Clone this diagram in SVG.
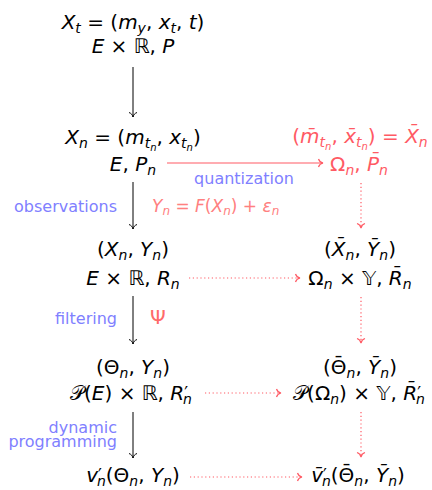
<svg xmlns="http://www.w3.org/2000/svg" width="432" height="490" viewBox="0 0 432 490">
<style>
.t{font-family:"DejaVu Sans",sans-serif;font-size:20px;font-style:italic;text-anchor:middle;fill:#000}
.u{font-style:normal}
.s{font-size:14px}
.ss{font-size:10px}
.pr{font-size:17px;font-style:normal}
.red{fill:#ff5a64}
.lred{fill:#ff8080}
.lab{font-family:"DejaVu Sans",sans-serif;font-size:16px;fill:#8080ff}
.blk{stroke:#000;stroke-width:1;fill:none}
.rs{stroke:#ff5a64;stroke-width:1.2;fill:none}
.rd{stroke:#ff5a64;stroke-width:1.2;fill:none;stroke-dasharray:1.2 2.6}
</style>
<defs>
<marker id="ab" viewBox="-6 -6 12 12" markerWidth="12" markerHeight="12" refX="0" refY="0" orient="auto" markerUnits="userSpaceOnUse"><path d="M-4.5,-4 C-3.8,-1.8 -1.8,-0.4 0,0 C-1.8,0.4 -3.8,1.8 -4.5,4" fill="none" stroke="#000" stroke-width="1"/></marker>
<marker id="ar" viewBox="-6 -6 12 12" markerWidth="12" markerHeight="12" refX="0" refY="0" orient="auto" markerUnits="userSpaceOnUse"><path d="M-4.5,-4 C-3.8,-1.8 -1.8,-0.4 0,0 C-1.8,0.4 -3.8,1.8 -4.5,4" fill="none" stroke="#ff5a64" stroke-width="1.2"/></marker>
</defs>

<g id="node-Xt">
<text class="t" x="133" y="29">X<tspan class="s" dy="4">t</tspan><tspan class="u" dy="-4"> = (</tspan>m<tspan class="s" dy="4">y</tspan><tspan class="u" dy="-4">, </tspan>x<tspan class="s" dy="4">t</tspan><tspan class="u" dy="-4">, </tspan>t<tspan class="u">)</tspan></text>
<text class="t" x="133" y="53">E<tspan class="u"> × ℝ, </tspan>P</text>
</g>

<g id="node-Xn">
<text class="t" x="133" y="144">X<tspan class="s" dy="4">n</tspan><tspan class="u" dy="-4"> = (</tspan>m<tspan class="s" dy="4">t</tspan><tspan class="ss" dy="3">n</tspan><tspan class="u" dy="-7">, </tspan>x<tspan class="s" dy="4">t</tspan><tspan class="ss" dy="3">n</tspan><tspan class="u" dy="-7">)</tspan></text>
<text class="t" x="133" y="171">E<tspan class="u">, </tspan>P<tspan class="s" dy="4">n</tspan></text>
</g>

<g id="node-Xbar">
<text class="t red" x="360" y="143"><tspan class="u">(</tspan>m̄<tspan class="s" dy="4">t</tspan><tspan class="ss" dy="3">n</tspan><tspan class="u" dy="-7">, </tspan>x̄<tspan class="s" dy="4">t</tspan><tspan class="ss" dy="3">n</tspan><tspan class="u" dy="-7">) = </tspan>X̄<tspan class="s" dy="4">n</tspan></text>
<text class="t red" x="359" y="171"><tspan class="u">Ω</tspan><tspan class="s" dy="4">n</tspan><tspan class="u" dy="-4">, </tspan>P̄<tspan class="s" dy="4">n</tspan></text>
</g>

<g id="node-XY">
<text class="t" x="133" y="256"><tspan class="u">(</tspan>X<tspan class="s" dy="4">n</tspan><tspan class="u" dy="-4">, </tspan>Y<tspan class="s" dy="4">n</tspan><tspan class="u" dy="-4">)</tspan></text>
<text class="t" x="133" y="285">E<tspan class="u"> × ℝ, </tspan>R<tspan class="s" dy="4">n</tspan></text>
</g>

<g id="node-XYbar">
<text class="t" x="360" y="256"><tspan class="u">(</tspan>X̄<tspan class="s" dy="4">n</tspan><tspan class="u" dy="-4">, </tspan>Ȳ<tspan class="s" dy="4">n</tspan><tspan class="u" dy="-4">)</tspan></text>
<text class="t" x="360" y="285"><tspan class="u">Ω</tspan><tspan class="s" dy="4">n</tspan><tspan class="u" dy="-4"> × 𝕐, </tspan>R̄<tspan class="s" dy="4">n</tspan></text>
</g>

<g id="node-ThetaY">
<text class="t" x="133" y="374"><tspan class="u">(Θ</tspan><tspan class="s" dy="4">n</tspan><tspan class="u" dy="-4">, </tspan>Y<tspan class="s" dy="4">n</tspan><tspan class="u" dy="-4">)</tspan></text>
<text class="t" x="131" y="400"><tspan class="u">𝒫(</tspan>E<tspan class="u">) × ℝ, </tspan>R<tspan class="pr" dy="-1">′</tspan><tspan class="s" dx="-5" dy="5">n</tspan></text>
</g>

<g id="node-ThetaYbar">
<text class="t" x="360" y="374"><tspan class="u">(Θ</tspan><tspan class="u" dx="-12.9" dy="-3">¯</tspan><tspan class="s" dx="2.9" dy="7">n</tspan><tspan class="u" dy="-4">, </tspan>Ȳ<tspan class="s" dy="4">n</tspan><tspan class="u" dy="-4">)</tspan></text>
<text class="t" x="359" y="400"><tspan class="u">𝒫(Ω</tspan><tspan class="s" dy="4">n</tspan><tspan class="u" dy="-4">) × 𝕐, </tspan>R̄<tspan class="pr" dy="-1">′</tspan><tspan class="s" dx="-5" dy="5">n</tspan></text>
</g>

<g id="node-v">
<text class="t" x="133" y="482">v<tspan class="pr" dy="-1">′</tspan><tspan class="s" dx="-5" dy="5">n</tspan><tspan class="u" dy="-4">(Θ</tspan><tspan class="s" dy="4">n</tspan><tspan class="u" dy="-4">, </tspan>Y<tspan class="s" dy="4">n</tspan><tspan class="u" dy="-4">)</tspan></text>
</g>

<g id="node-vbar">
<text class="t" x="358" y="482">v̄<tspan class="pr" dy="-1">′</tspan><tspan class="s" dx="-5" dy="5">n</tspan><tspan class="u" dy="-4">(Θ</tspan><tspan class="u" dx="-12.9" dy="-3">¯</tspan><tspan class="s" dx="2.9" dy="7">n</tspan><tspan class="u" dy="-4">, </tspan>Ȳ<tspan class="s" dy="4">n</tspan><tspan class="u" dy="-4">)</tspan></text>
</g>

<g id="connectors">
<line class="blk" x1="133" y1="67" x2="133" y2="117" marker-end="url(#ab)"/>
<line class="blk" x1="133" y1="182" x2="133" y2="229" marker-end="url(#ab)"/>
<line class="blk" x1="133" y1="296" x2="133" y2="344" marker-end="url(#ab)"/>
<line class="blk" x1="133" y1="412" x2="133" y2="458" marker-end="url(#ab)"/>
<line class="rs" x1="167" y1="163" x2="323" y2="163" marker-end="url(#ar)"/>
<line class="rd" x1="189" y1="278" x2="300" y2="278" marker-end="url(#ar)"/>
<line class="rd" x1="205" y1="393" x2="281" y2="393" marker-end="url(#ar)"/>
<line class="rd" x1="190" y1="477" x2="302" y2="477" marker-end="url(#ar)"/>
<line class="rd" x1="361" y1="183" x2="361" y2="228" marker-end="url(#ar)"/>
<line class="rd" x1="361" y1="297" x2="361" y2="343" marker-end="url(#ar)"/>
<line class="rd" x1="361" y1="412" x2="361" y2="457" marker-end="url(#ar)"/>
</g>

<g id="labels">
<text class="lab" x="244" y="184" text-anchor="middle">quantization</text>
<text class="lab" x="117" y="212" text-anchor="end">observations</text>
<text class="t lred" x="152" y="212" style="text-anchor:start;font-size:17px">Y<tspan class="s" style="font-size:12px" dy="3">n</tspan><tspan class="u" dy="-3"> = </tspan>F<tspan class="u">(</tspan>X<tspan style="font-size:12px" dy="3">n</tspan><tspan class="u" dy="-3">) + </tspan>ε<tspan style="font-size:12px" dy="3">n</tspan></text>
<text class="lab" x="117" y="324" text-anchor="end">filtering</text>
<text class="t" x="150" y="324" style="text-anchor:start;font-style:normal;fill:#ff6a6a">Ψ</text>
<text class="lab" x="117" y="433" text-anchor="end">dynamic</text>
<text class="lab" x="117" y="447" text-anchor="end">programming</text>
</g>
</svg>
